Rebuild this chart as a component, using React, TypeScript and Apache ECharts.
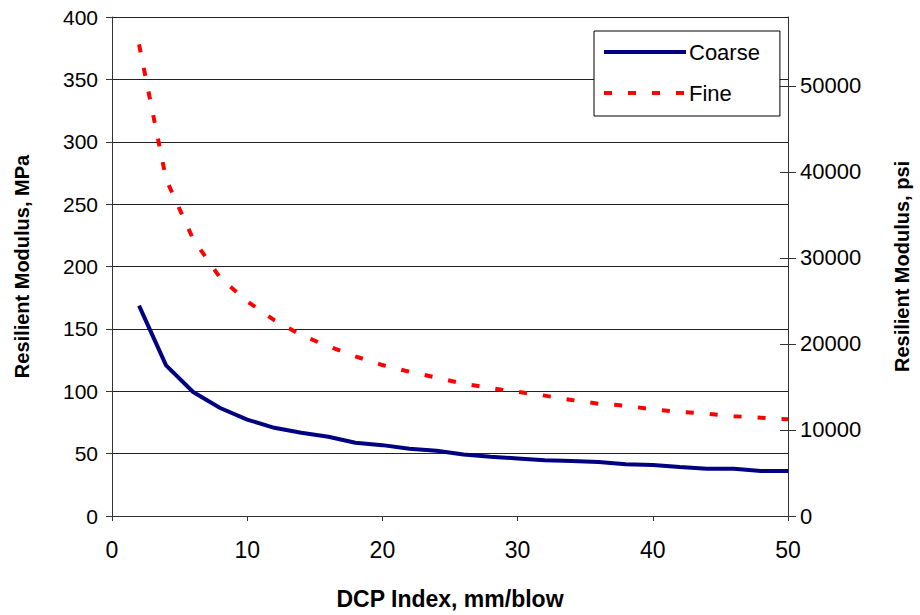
import React, { useEffect, useRef } from "react";
import * as echarts from "echarts";

const dcpIndex = [2, 4, 6, 8, 10, 12, 14, 16, 18, 20, 22, 24, 26, 28, 30, 32, 34, 36, 38, 40, 42, 44, 46, 48, 50];
const coarseMPa = [168.6, 120.7, 99.4, 86.6, 77.3, 70.7, 66.7, 63.5, 58.7, 56.8, 53.9, 52.3, 49.3, 47.5, 46.1, 44.6, 44.1, 43.3, 41.4, 40.9, 39.3, 37.9, 37.9, 36.1, 36.1];
const fineMPa = [378, 270, 222, 191, 172, 157, 145, 136, 128, 121, 115.6, 111, 106, 102.5, 99.5, 96.5, 93, 90, 88.4, 85.5, 83.5, 82, 80, 78.8, 77.5];
const xTicks = [0, 10, 20, 30, 40, 50];
const mpaTicks = [0, 50, 100, 150, 200, 250, 300, 350, 400];
const psiTicks = [0, 10000, 20000, 30000, 40000, 50000];
const PSI_PER_MPA = 145.038;

const FONT = "'Liberation Sans', Arial, sans-serif";

export default function App() {
  const ref = useRef<HTMLDivElement>(null);
  useEffect(() => {
    if (!ref.current) return;
    const chart = echarts.init(ref.current, null, { renderer: "svg" });
    const psiMax = 400 * PSI_PER_MPA;
    chart.setOption({
      animation: false,
      backgroundColor: "#fff",
      grid: { left: 112, top: 17, right: 128, bottom: 97, containLabel: false },
      legend: {
        left: 594,
        top: 31,
        orient: "vertical",
        backgroundColor: "#fff",
        borderColor: "#000",
        borderWidth: 1,
        padding: [10, 20, 12, 8],
        itemGap: 19,
        itemWidth: 82,
        itemHeight: 14,
        itemStyle: { opacity: 0 },
        lineStyle: { width: 4 },
        textStyle: { fontFamily: FONT, fontSize: 22, color: "#000", padding: [0, 0, 0, -2] },
        data: ["Coarse", "Fine"],
      },
      xAxis: {
        type: "value",
        min: 0,
        max: 50,
        interval: 10,
        name: "DCP Index, mm/blow",
        nameLocation: "middle",
        nameGap: 71,
        nameTextStyle: { fontFamily: FONT, fontSize: 23, fontWeight: "bold", color: "#000" },
        axisLine: { show: true, lineStyle: { color: "#333", width: 1 } },
        axisTick: { show: true, inside: false, length: 5, lineStyle: { color: "#333" } },
        axisLabel: { fontFamily: FONT, fontSize: 23, color: "#000", margin: 22, customValues: xTicks },
        splitLine: { show: false },
      },
      yAxis: [
        {
          type: "value",
          min: 0,
          max: 400,
          interval: 50,
          position: "left",
          name: "Resilient Modulus, MPa",
          nameLocation: "middle",
          nameRotate: 90,
          nameGap: 80,
          nameTextStyle: { fontFamily: FONT, fontSize: 20, fontWeight: "bold", color: "#000" },
          axisLine: { show: true, lineStyle: { color: "#333", width: 1 } },
          axisTick: { show: true, inside: false, length: 6, lineStyle: { color: "#333" } },
          axisLabel: { fontFamily: FONT, fontSize: 21, color: "#000", margin: 14, customValues: mpaTicks },
          splitLine: { show: true, lineStyle: { color: "#222", width: 1 } },
        },
        {
          type: "value",
          min: 0,
          max: psiMax,
          position: "right",
          name: "Resilient Modulus, psi",
          nameLocation: "middle",
          nameRotate: 90,
          nameGap: 104,
          nameTextStyle: { fontFamily: FONT, fontSize: 20, fontWeight: "bold", color: "#000", verticalAlign: "top" },
          axisLine: { show: true, onZero: false, lineStyle: { color: "#333", width: 1 } },
          axisTick: { show: true, inside: false, length: 8, lineStyle: { color: "#333" }, customValues: psiTicks },
          axisLabel: {
            fontFamily: FONT,
            fontSize: 22,
            color: "#000",
            margin: 12,
            customValues: psiTicks,
            formatter: (v: number) => String(Math.round(v)),
          },
          splitLine: { show: false },
        },
        {
          type: "value",
          min: 0,
          max: psiMax,
          position: "right",
          axisLine: { show: false },
          axisTick: { show: true, inside: true, length: 8, lineStyle: { color: "#333" }, customValues: psiTicks },
          axisLabel: { show: false },
          splitLine: { show: false },
        },
      ],
      series: [
        {
          name: "Coarse",
          type: "line",
          yAxisIndex: 0,
          symbol: "none",
          data: dcpIndex.map((x, i) => [x, coarseMPa[i]]),
          lineStyle: { color: "#000080", width: 4 },
          itemStyle: { color: "#000080" },
        },
        {
          name: "Fine",
          type: "line",
          yAxisIndex: 0,
          symbol: "none",
          data: dcpIndex.map((x, i) => [x, fineMPa[i]]),
          lineStyle: { color: "#ff0000", width: 4, type: [8, 16] },
          itemStyle: { color: "#ff0000" },
        },
      ],
    });
    return () => chart.dispose();
  }, []);
  return <div ref={ref} style={{ position: "fixed", left: 0, top: 0, width: 920, height: 615 }} />;
}
